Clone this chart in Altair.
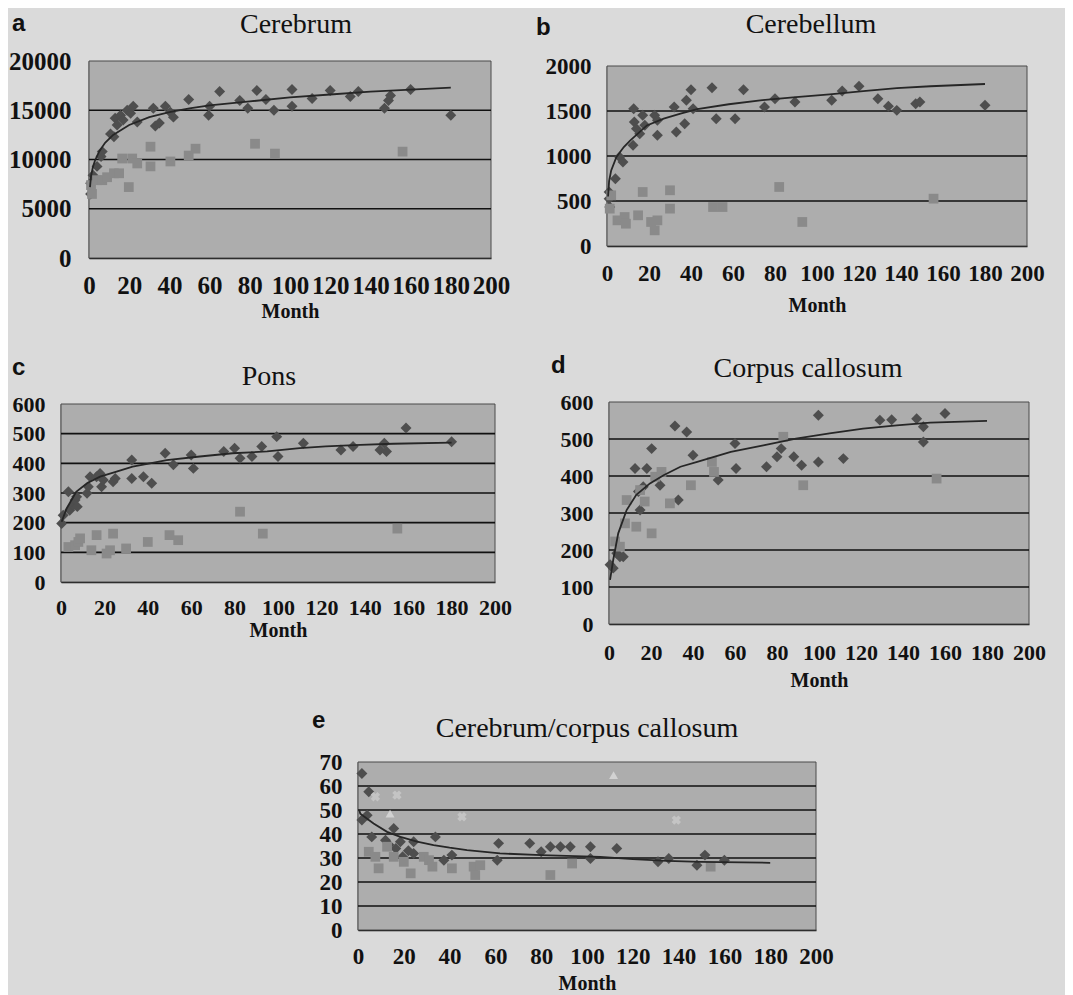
import altair as alt
import pandas as pd

SERIF = "Liberation Serif"
SANS = "Liberation Sans"
PLOT_BG = "#adadad"
PAGE_BG = "#dadada"
DIA_COL = "#4e4e4e"
SQ_COL = "#8a8a8a"
FIT_COL = "#262626"
GRID_COL = "#111111"
INK = "#111111"

x_ticks = [0, 20, 40, 60, 80, 100, 120, 140, 160, 180, 200]

# ---------------- a: Cerebrum ----------------
a_dia_x = [0.8, 0.8, 2, 4, 6, 6.6, 10.7, 12.4, 13, 14, 15.7, 17, 19, 20.7, 22, 24, 32, 33, 35, 38, 40.5, 42,
           49.6, 59.5, 60, 65, 75, 79, 83.5, 88, 92, 101, 101, 111, 120, 130, 134, 147, 149, 150, 160, 180]
a_dia_y = [6500, 7600, 8400, 9300, 10300, 10800, 12600, 12300, 14200, 13500, 14500, 14000, 15000, 14700,
           15400, 13800, 15200, 13400, 13700, 15400, 14800, 14300, 16100, 14500, 15400, 16900, 16000, 15200,
           17000, 16100, 15000, 17100, 15400, 16200, 17000, 16400, 16900, 15200, 16000, 16500, 17100, 14500]
a_sq_x = [1, 1.5, 4, 6.6, 9, 12.4, 15, 16.5, 19.8, 21.5, 24, 30.6, 30.6, 40.5, 49.6, 53, 82.6, 92.5, 156]
a_sq_y = [7400, 6500, 7900, 7900, 8200, 8600, 8600, 10100, 7200, 10100, 9600, 11300, 9300, 9800, 10400,
          11100, 11600, 10600, 10800]
a_fit_x = [0.5, 1, 2, 3, 5, 8, 12, 16, 20, 30, 40, 50, 60, 80, 100, 120, 140, 160, 180]
a_fit_y = [7200, 8300, 9300, 9900, 10800, 11700, 12500, 13000, 13500, 14300, 14800, 15200, 15500, 15900,
           16300, 16600, 16900, 17100, 17300]
a_y_ticks = [0, 5000, 10000, 15000, 20000]
a_grid = [5000, 10000, 15000]

# ---------------- b: Cerebellum ----------------
b_dia_x = [1, 1, 1.3, 4, 6, 7.6, 12.4, 12.7, 13, 14, 15.6, 17, 18, 22.7, 24, 24, 32, 33, 37, 37.8, 40, 41,
           50, 52, 61, 65, 75, 80, 89.5, 107, 112, 120, 129, 134, 138, 147, 149, 180]
b_dia_y = [600, 525, 433, 748, 989, 933, 1119, 1526, 1378, 1304, 1248, 1452, 1341, 1452, 1396, 1230, 1544,
           1267, 1359, 1619, 1737, 1526, 1759, 1415, 1415, 1737, 1544, 1637, 1600, 1619, 1722, 1774, 1637,
           1552, 1507, 1581, 1600, 1563]
b_sq_x = [1.3, 2, 5, 8.4, 9, 14.8, 17, 21, 22.7, 24, 30, 30, 50.5, 55, 82, 93, 155.5]
b_sq_y = [415, 563, 285, 322, 248, 341, 600, 267, 174, 285, 619, 415, 433, 433, 656, 267, 526]
b_fit_x = [0.5, 1, 2, 4.5, 8, 11, 19, 27, 35, 43, 58, 74, 90, 106, 122, 138, 154, 180]
b_fit_y = [550, 720, 840, 990, 1100, 1170, 1340, 1415, 1470, 1520, 1575, 1620, 1655, 1685, 1720, 1755,
           1775, 1800]
b_y_ticks = [0, 500, 1000, 1500, 2000]
b_grid = [500, 1000, 1500]

# ---------------- c: Pons ----------------
c_dia_x = [0.3, 1, 3.4, 4, 5.7, 6.5, 7.2, 7.5, 12, 12.6, 13.4, 16.4, 18, 18.7, 19.5, 24, 25, 32.6, 32.6, 38,
           41.8, 48, 51.8, 60, 61, 75, 80, 82.5, 88, 92.5, 99.4, 100, 111.7, 129, 134.6, 147, 149, 150, 159, 180]
c_dia_y = [197, 225, 304, 242, 259, 276, 287, 254, 299, 321, 355, 355, 366, 321, 344, 338, 349, 411, 349, 355,
           333, 434, 395, 428, 383, 440, 451, 417, 423, 457, 490, 423, 468, 445, 457, 445, 468, 440, 519, 473]
c_sq_x = [3.4, 6.5, 8, 8.8, 14, 16.4, 21, 22.6, 24, 30, 40, 50, 54, 82.5, 93, 155]
c_sq_y = [118, 124, 135, 147, 107, 158, 96, 107, 163, 113, 135, 158, 141, 237, 163, 180]
c_fit_x = [0.3, 2.6, 7, 12, 18, 25.6, 33, 41, 48.7, 64, 79, 95, 110, 122, 138, 153, 180]
c_fit_y = [203, 248, 304, 333, 355, 372, 389, 400, 411, 423, 434, 440, 451, 457, 462, 466, 470]
c_y_ticks = [0, 100, 200, 300, 400, 500, 600]
c_grid = [100, 200, 300, 400, 500]

# ---------------- d: Corpus callosum ----------------
d_dia_x = [0.5, 2, 3.7, 5.2, 6.8, 12.4, 14, 14.8, 16.3, 18, 20.3, 24.3, 31.4, 33, 37, 40, 52, 60, 60.5, 75,
           80, 82, 88, 91.7, 99.7, 99.7, 111.6, 129, 134.6, 146.5, 149.7, 149.7, 160]
d_dia_y = [160, 151, 191, 182, 182, 420, 358, 308, 371, 420, 474, 375, 535, 335, 519, 456, 389, 488, 420, 425,
           452, 474, 452, 429, 564, 438, 447, 551, 552, 555, 533, 492, 569]
d_sq_x = [2.9, 5.2, 7.6, 8.4, 13, 14.8, 17, 20.3, 22, 25, 29, 39, 49, 50, 83, 92.5, 156]
d_sq_y = [223, 209, 272, 335, 263, 362, 331, 245, 398, 411, 326, 375, 438, 411, 506, 375, 393]
d_fit_x = [0.5, 2, 4.4, 8.4, 13, 19.5, 26, 34, 42, 58, 73.5, 89, 105, 121, 137, 153, 180]
d_fit_y = [119, 173, 245, 308, 349, 380, 402, 425, 438, 465, 483, 501, 515, 528, 537, 544, 549]
d_y_ticks = [0, 100, 200, 300, 400, 500, 600]
d_grid = [100, 200, 300, 400, 500]

# ---------------- e: Cerebrum/corpus callosum ----------------
e_dia_x = [1.7, 4.7, 4, 1.7, 6, 15.6, 12, 18.5, 24.3, 24.3, 33.8, 41, 37.5, 61.4, 60.8, 75, 80, 84, 88.4,
           92.7, 101.5, 101.5, 113, 131, 135.7, 148, 151.5, 160, 13.5, 16.5, 19.5, 22]
e_dia_y = [65.2, 57.6, 47.8, 45.8, 38.8, 42.3, 37.4, 36.8, 36.8, 31.9, 38.8, 31.2, 29.1, 36.1, 29.1, 36.1,
           32.6, 34.7, 34.7, 34.7, 34.7, 29.8, 34, 28.4, 29.8, 27, 31.2, 29.1, 35.5, 34, 30.5, 33]
e_sq_x = [4.7, 7.6, 9, 12.7, 15.6, 20, 23, 28.7, 31, 32.5, 41, 50.5, 51.2, 53.4, 84, 93.5, 154]
e_sq_y = [32.6, 30.5, 25.7, 34.7, 30.5, 28.4, 23.6, 30.5, 29.1, 26.4, 25.7, 26.4, 22.9, 27, 22.9, 27.7, 26.4]
e_x_x = [7.6, 17, 45.4, 139]
e_x_y = [55.5, 56.2, 47.2, 45.8]
e_tri_x = [14, 111.6]
e_tri_y = [48.5, 64.5]
e_fit_x = [0.5, 1, 6.8, 12.7, 18.5, 25.8, 33, 40, 47.6, 62, 80, 105.8, 120, 135, 149.5, 180]
e_fit_y = [50, 48.5, 44.4, 40.9, 38.8, 36.8, 35.4, 34.3, 33.3, 31.9, 31.2, 30.5, 29.5, 28.8, 28.4, 28.0]
e_y_ticks = [0, 10, 20, 30, 40, 50, 60, 70]
e_grid = [10, 20, 30, 40, 50, 60]

TOTAL_W = 1057
TOTAL_H = 987


def panel(letter, name, box, ymax, yticks, grid_vals, dia, sq, fit, letter_pos, title_pos,
          lp, tp, lfs=23, ylp=16, extras=()):
    """box = (left, top, right, bottom) of the plot area in chart pixels."""
    left, top, right, bottom = box
    xsc = alt.Scale(domain=[0, 200], range=[left, right], nice=False, zero=False)
    ysc = alt.Scale(domain=[0, ymax], range=[bottom, top], nice=False, zero=False)
    xax = alt.Axis(orient="bottom", offset=bottom - TOTAL_H, values=x_ticks, title="Month",
                   grid=False, ticks=False, labelPadding=lp, titlePadding=tp, labelFlush=False,
                   labelOverlap=False, labelFont=SERIF, labelFontWeight="bold", labelFontSize=lfs,
                   labelColor=INK, titleFont=SERIF, titleFontWeight="bold", titleFontSize=20,
                   titleColor=INK, domainColor=INK, domainWidth=1.5)
    yax = alt.Axis(orient="left", offset=-left, values=yticks, title=None, grid=False, ticks=False,
                   labelPadding=ylp, labelOverlap=False, labelFont=SERIF, labelFontWeight="bold",
                   labelFontSize=lfs, labelColor=INK, format="d", labelFlush=False,
                   domainColor=INK, domainWidth=1.5)

    def X(f, ax=None):
        return alt.X(f, type="quantitative", scale=xsc, axis=ax)

    def Y(f, ax=None):
        return alt.Y(f, type="quantitative", scale=ysc, axis=ax)

    layers = []
    bg = alt.Chart(pd.DataFrame({"x0": [0], "x1": [200], "y0": [0], "y1": [ymax]})).mark_rect(
        fill=PLOT_BG, stroke="#4a4a4a", strokeWidth=1).encode(
        x=X("x0"), x2="x1", y=Y("y0"), y2="y1")
    layers.append(bg)
    grid = alt.Chart(pd.DataFrame({"g": grid_vals, "x0": [0] * len(grid_vals),
                                   "x1": [200] * len(grid_vals)})).mark_rule(
        color=GRID_COL, strokeWidth=1.7).encode(x=X("x0"), x2="x1", y=Y("g"))
    layers.append(grid)
    dia_l = alt.Chart(pd.DataFrame({"m": dia[0], "v": dia[1]})).mark_point(
        shape="diamond", filled=True, size=120, color=DIA_COL, opacity=1).encode(
        x=X("m", xax), y=Y("v", yax))
    layers.append(dia_l)
    sq_l = alt.Chart(pd.DataFrame({"m": sq[0], "v": sq[1]})).mark_point(
        shape="square", filled=True, size=95, color=SQ_COL, opacity=1).encode(x=X("m"), y=Y("v"))
    layers.append(sq_l)
    for ex in extras:
        layers.append(ex(X, Y))
    fit_l = alt.Chart(pd.DataFrame({"m": fit[0], "v": fit[1]})).mark_line(
        color=FIT_COL, strokeWidth=1.8).encode(x=X("m"), y=Y("v"))
    layers.append(fit_l)
    let_l = alt.Chart(pd.DataFrame({"t": [letter]})).mark_text(
        font=SANS, fontWeight="bold", fontSize=24, align="left", baseline="alphabetic",
        color=INK).encode(text="t:N", x=alt.value(letter_pos[0]), y=alt.value(letter_pos[1]))
    tit_l = alt.Chart(pd.DataFrame({"t": [name]})).mark_text(
        font=SERIF, fontSize=28, align="center", baseline="alphabetic",
        color=INK).encode(text="t:N", x=alt.value(title_pos[0]), y=alt.value(title_pos[1]))
    layers += [let_l, tit_l]
    return layers


def e_cross(X, Y):
    return alt.Chart(pd.DataFrame({"m": e_x_x, "v": e_x_y})).mark_point(
        shape="cross", angle=45, filled=True, size=90, color="#c4c4c4", opacity=1).encode(
        x=X("m"), y=Y("v"))


def e_tri(X, Y):
    return alt.Chart(pd.DataFrame({"m": e_tri_x, "v": e_tri_y})).mark_point(
        shape="triangle-up", filled=True, size=80, color="#d2d2d2", opacity=1).encode(
        x=X("m"), y=Y("v"))


layers = []
layers += panel("a", "Cerebrum", (81, 53, 483, 250), 20000, a_y_ticks, a_grid, (a_dia_x, a_dia_y),
                (a_sq_x, a_sq_y), (a_fit_x, a_fit_y), (4, 23), (288, 25), lp=15, tp=3, lfs=25, ylp=18)
layers += panel("b", "Cerebellum", (599, 58, 1019, 238), 2000, b_y_ticks, b_grid, (b_dia_x, b_dia_y),
                (b_sq_x, b_sq_y), (b_fit_x, b_fit_y), (528, 27), (803, 25), lp=16, tp=10)
layers += panel("c", "Pons", (53, 396, 487, 574), 600, c_y_ticks, c_grid, (c_dia_x, c_dia_y),
                (c_sq_x, c_sq_y), (c_fit_x, c_fit_y), (4, 367), (261, 377), lp=15, tp=2, lfs=22)
layers += panel("d", "Corpus callosum", (601, 394, 1021, 616), 600, d_y_ticks, d_grid,
                (d_dia_x, d_dia_y), (d_sq_x, d_sq_y), (d_fit_x, d_fit_y), (543, 365), (800, 369),
                lp=18, tp=7, lfs=22)
layers += panel("e", "Cerebrum/corpus callosum", (350, 754, 808, 922), 70, e_y_ticks, e_grid,
                (e_dia_x, e_dia_y), (e_sq_x, e_sq_y), (e_fit_x, e_fit_y), (304, 720), (579, 729),
                lp=15, tp=5, extras=(e_cross, e_tri))

chart = alt.layer(*layers).resolve_scale(x="independent", y="independent").properties(
    width=TOTAL_W, height=TOTAL_H, padding=0, background=PAGE_BG,
    autosize=alt.AutoSizeParams(type="none"),
).configure_view(strokeWidth=0)

chart.save("out.html", embed_options={"renderer": "svg", "actions": False})
